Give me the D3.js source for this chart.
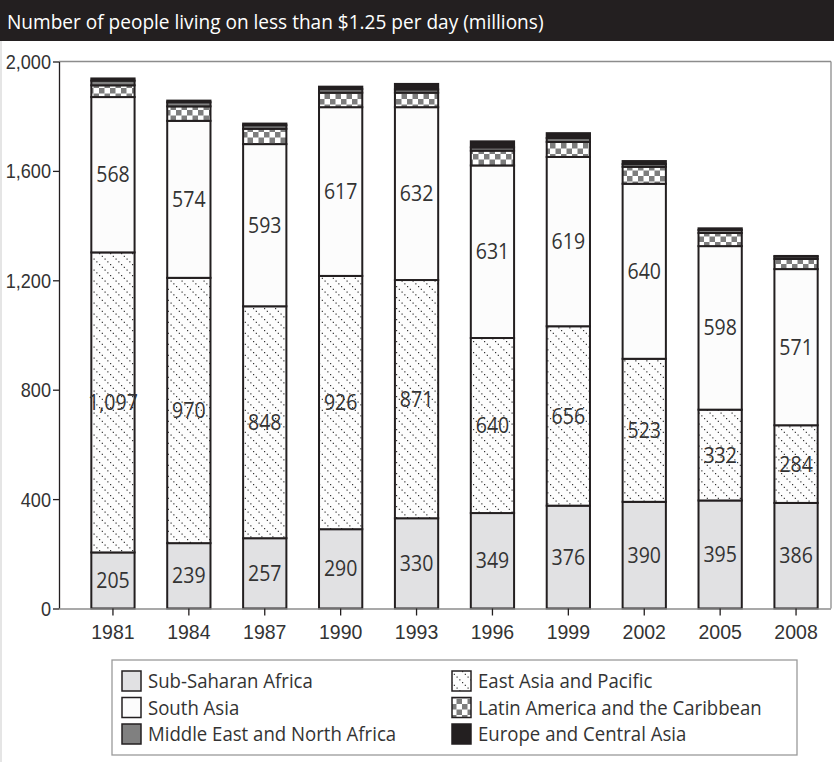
<!DOCTYPE html>
<html>
<head>
<meta charset="utf-8">
<script src="https://cdn.jsdelivr.net/npm/d3@7/dist/d3.min.js"></script>
<style>
  html, body { margin: 0; padding: 0; background: #fff; }
  svg { display: block; font-family: "Open Sans", "Noto Sans", sans-serif; }
</style>
</head>
<body>
<svg id="chart" width="834" height="762"></svg>
<script>
// Poverty headcount at $1.25 a day, millions, by region
const years = ["1981", "1984", "1987", "1990", "1993", "1996", "1999", "2002", "2005", "2008"];
const subSaharanAfrica = [205, 239, 257, 290, 330, 349, 376, 390, 395, 386];
const eastAsiaPacific = [1097, 970, 848, 926, 871, 640, 656, 523, 332, 284];
const southAsia = [568, 574, 593, 617, 632, 631, 619, 640, 598, 571];
const latinAmericaCaribbean = [43, 53, 56, 53, 53, 54, 55, 62, 48, 37];
const middleEastNorthAfrica = [17, 15, 13, 13, 12, 12, 14, 10, 11, 9];
const europeCentralAsia = [8, 6, 6, 9, 20, 22, 18, 11, 6, 2];
const yTicks = [0, 400, 800, 1200, 1600, 2000];

const titleText = "Number of people living on less than $1.25 per day (millions)";

// stacking order, bottom to top
const series = [
  { key: "ssa", name: "Sub-Saharan Africa", values: subSaharanAfrica, fill: "#e1e1e3", label: true },
  { key: "eap", name: "East Asia and Pacific", values: eastAsiaPacific, fill: "url(#dots)", label: true },
  { key: "sa", name: "South Asia", values: southAsia, fill: "#fcfcfc", label: true },
  { key: "lac", name: "Latin America and the Caribbean", values: latinAmericaCaribbean, fill: "url(#checker)", label: false },
  { key: "mena", name: "Middle East and North Africa", values: middleEastNorthAfrica, fill: "#808080", label: false },
  { key: "eca", name: "Europe and Central Asia", values: europeCentralAsia, fill: "#231f20", label: false }
];
// legend reads down the first column, then the second
const legendOrder = ["ssa", "sa", "mena", "eap", "lac", "eca"];

const ink = "#231f20";
const textInk = "#333333";
const frameGray = "#8c8c8c";
const squeeze = 0.93; // narrow the type horizontally

const svg = d3.select("#chart");
const W = 834, H = 762;

// ---- patterns
const defs = svg.append("defs");
const dots = defs.append("pattern").attr("id", "dots")
  .attr("patternUnits", "userSpaceOnUse").attr("width", 11).attr("height", 11);
dots.append("rect").attr("width", 11).attr("height", 11).attr("fill", "#fdfdfd");
[0, 2.75, 5.5, 8.25].forEach(d => {
  dots.append("rect").attr("x", d).attr("y", d).attr("width", 1.2).attr("height", 1.2).attr("fill", "#333");
});
const checker = defs.append("pattern").attr("id", "checker")
  .attr("patternUnits", "userSpaceOnUse").attr("width", 11).attr("height", 11);
checker.append("rect").attr("width", 11).attr("height", 11).attr("fill", "#ffffff");
checker.append("rect").attr("width", 5.5).attr("height", 5.5).attr("fill", "#7d7d7d");
checker.append("rect").attr("x", 5.5).attr("y", 5.5).attr("width", 5.5).attr("height", 5.5).attr("fill", "#7d7d7d");

// ---- title bar and outer edge
svg.append("rect").attr("x", 0).attr("y", 0).attr("width", W).attr("height", 41).attr("fill", ink);
svg.append("text")
  .attr("transform", `translate(7,29) scale(${squeeze},1)`)
  .attr("font-size", 20.5).attr("fill", "#ffffff")
  .text(titleText);
svg.append("line").attr("x1", 1).attr("x2", 1).attr("y1", 41).attr("y2", H)
  .attr("stroke", "#d4d4d4").attr("stroke-width", 1.2);

// ---- scales
const plotLeft = 59, plotRight = 831, plotTop = 61.5, plotBottom = 608.5;
const x = d3.scaleBand().domain(years).range([75, 834]).paddingInner(0.43).paddingOuter(0.215);
const y = d3.scaleLinear().domain([0, 2000]).range([plotBottom, plotTop]);

// ---- frame
const frame = svg.append("g").attr("fill", "none").attr("stroke", frameGray).attr("stroke-width", 1.3);
frame.append("line").attr("x1", plotLeft).attr("x2", plotRight).attr("y1", plotTop).attr("y2", plotTop);
frame.append("line").attr("x1", plotRight).attr("x2", plotRight).attr("y1", plotTop).attr("y2", plotBottom);

// ---- stacked bars
const table = years.map((yr, i) => {
  const row = { year: yr };
  series.forEach(s => { row[s.key] = s.values[i]; });
  return row;
});
const stacked = d3.stack().keys(series.map(s => s.key))(table);
const byKey = Object.fromEntries(series.map(s => [s.key, s]));

const layers = svg.append("g").selectAll("g").data(stacked).join("g")
  .attr("fill", d => byKey[d.key].fill);
layers.selectAll("rect").data(d => d).join("rect")
  .attr("x", d => x(d.data.year))
  .attr("width", x.bandwidth())
  .attr("y", d => y(d[1]))
  .attr("height", d => y(d[0]) - y(d[1]))
  .attr("stroke", ink).attr("stroke-width", 2);

// ---- value labels
const fmt = d3.format(",");
const labelLayers = stacked.filter(l => byKey[l.key].label);
svg.append("g").selectAll("g").data(labelLayers).join("g")
  .selectAll("text").data(l => l.map(d => ({ d, key: l.key }))).join("text")
  .attr("transform", ({ d }) => `translate(${x(d.data.year) + x.bandwidth() / 2},${(y(d[0]) + y(d[1])) / 2}) scale(${squeeze},1)`)
  .attr("text-anchor", "middle").attr("dy", "0.36em")
  .attr("font-size", 21).attr("fill", textInk)
  .text(({ d, key }) => fmt(d.data[key]));

// ---- axes
const yAxis = svg.append("g").attr("transform", `translate(${plotLeft},0)`)
  .call(d3.axisLeft(y).tickValues(yTicks).tickFormat(fmt).tickSize(6).tickSizeOuter(0));
yAxis.select(".domain").attr("stroke", ink).attr("stroke-width", 1.3);
yAxis.selectAll(".tick line").attr("stroke", ink).attr("stroke-width", 1.3);
yAxis.selectAll(".tick text")
  .attr("x", -8 / squeeze).attr("dy", "0.36em")
  .attr("transform", `scale(${squeeze},1)`)
  .attr("font-size", 19.5).attr("font-family", null).attr("fill", textInk);

const xAxis = svg.append("g").attr("transform", `translate(0,${plotBottom})`)
  .call(d3.axisBottom(x).tickSize(7).tickSizeOuter(0));
xAxis.select(".domain").attr("d", `M${plotLeft},0.5H${plotRight}`).attr("stroke", frameGray).attr("stroke-width", 1.3);
xAxis.selectAll(".tick line").attr("stroke", ink).attr("stroke-width", 1.3);
xAxis.selectAll(".tick text")
  .attr("y", 30.5).attr("dy", null)
  .attr("transform", `scale(${squeeze},1)`)
  .attr("font-size", 21).attr("font-family", null).attr("fill", textInk);

// ---- legend
const legend = svg.append("g");
legend.append("rect").attr("x", 112).attr("y", 660).attr("width", 685).attr("height", 95)
  .attr("fill", "#ffffff").attr("stroke", "#9a9a9a").attr("stroke-width", 1.3);
const colX = [122, 452];
const rowY = [681, 707.5, 734];
legendOrder.forEach((k, i) => {
  const s = byKey[k];
  const cx = colX[Math.floor(i / 3)], cy = rowY[i % 3];
  legend.append("rect").attr("x", cx).attr("y", cy - 10).attr("width", 19).attr("height", 20)
    .attr("fill", s.fill).attr("stroke", ink).attr("stroke-width", 1.5);
  legend.append("text")
    .attr("transform", `translate(${cx + 26},${cy}) scale(${squeeze},1)`)
    .attr("dy", "0.36em").attr("font-size", 20).attr("fill", textInk)
    .text(s.name);
});
</script>
</body>
</html>
